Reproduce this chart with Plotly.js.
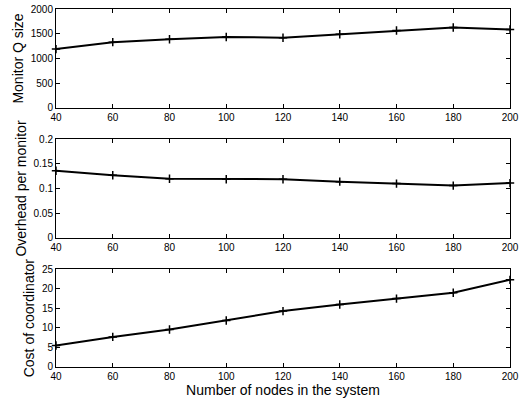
<!DOCTYPE html>
<html><head><meta charset="utf-8">
<script src="https://cdn.plot.ly/plotly-3.0.1.min.js"></script>
<style>body{margin:0;padding:0;background:#fff}#c{width:524px;height:400px}</style>
</head><body><div id="c"></div>
<script>
const nodes = [40, 60, 80, 100, 120, 140, 160, 180, 200];
const monitorQSize = [1190, 1330, 1390, 1435, 1420, 1490, 1565, 1625, 1585];
const overheadPerMonitor = [0.136, 0.127, 0.120, 0.119, 0.119, 0.114, 0.110, 0.106, 0.111];
const costOfCoordinator = [5.5, 7.7, 9.6, 11.9, 14.3, 16.0, 17.5, 19.0, 22.3];
const xTicks = [40, 60, 80, 100, 120, 140, 160, 180, 200];
const yTitles = ["Monitor Q size", "Overhead per monitor", "Cost of coordinator"];
const xTitle = "Number of nodes in the system";

const font = {family: "Liberation Sans, Arial, sans-serif", color: "#000"};
function trace(y, xa, ya) {
  return {x: nodes, y: y, xaxis: xa, yaxis: ya, type: "scatter", mode: "lines+markers",
    line: {color: "#000", width: 2},
    marker: {symbol: "cross-thin-open", size: 6, color: "#000", line: {color: "#000", width: 1.5}},
    showlegend: false, cliponaxis: false};
}
function xax(anchor, title) {
  const a = {anchor: anchor, range: [40, 200], tickvals: xTicks, ticks: "inside", ticklen: 4,
    showline: true, mirror: "ticks", linecolor: "#000", linewidth: 1, tickcolor: "#000",
    showgrid: false, zeroline: false, tickfont: Object.assign({size: 10}, font)};
  if (title) a.title = {text: title, font: Object.assign({size: 14}, font), standoff: 4};
  return a;
}
function yax(anchor, domain, range, dtick, title) {
  return {anchor: anchor, domain: domain, range: range, dtick: dtick, ticks: "inside", ticklen: 4,
    showline: true, mirror: "ticks", linecolor: "#000", linewidth: 1, tickcolor: "#000",
    showgrid: false, zeroline: false, tickfont: Object.assign({size: 10}, font),
    title: {text: title, font: Object.assign({size: 14}, font), standoff: 3}};
}
const data = [
  trace(monitorQSize, "x", "y"),
  trace(overheadPerMonitor, "x2", "y2"),
  trace(costOfCoordinator, "x3", "y3")
];
const layout = {
  width: 524, height: 400,
  margin: {l: 56, r: 14, t: 9, b: 33},
  paper_bgcolor: "#fff", plot_bgcolor: "#fff",
  font: font,
  xaxis: xax("y"), yaxis: yax("x", [0.7235, 1], [0, 2000], 500, yTitles[0]),
  xaxis2: xax("y2"), yaxis2: yax("x2", [0.361, 0.636], [0, 0.2], 0.05, yTitles[1]),
  xaxis3: xax("y3", xTitle), yaxis3: yax("x3", [0, 0.273], [0, 25], 5, yTitles[2])
};
Plotly.newPlot("c", data, layout, {staticPlot: true});
</script></body></html>
